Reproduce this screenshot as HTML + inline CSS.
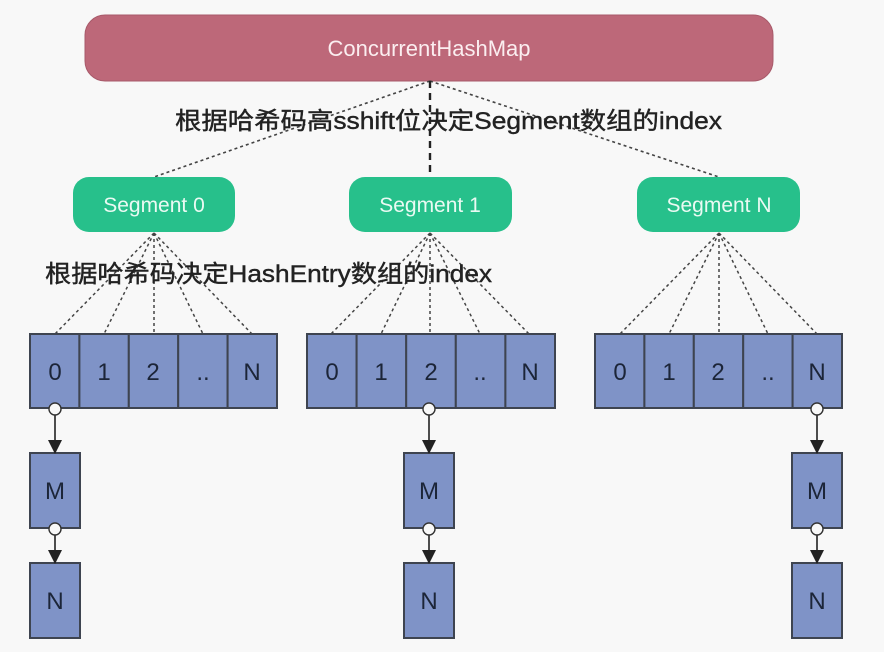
<!DOCTYPE html>
<html><head><meta charset="utf-8"><style>
html,body{margin:0;padding:0;background:#f8f8f8;}
svg{display:block;}
text{font-family:"Liberation Sans","Noto Sans CJK SC",sans-serif;}
</style></head><body>
<svg width="884" height="652" viewBox="0 0 884 652" xmlns="http://www.w3.org/2000/svg">
<rect width="884" height="652" fill="#f8f8f8"/>
<defs><marker id="ar" markerWidth="14" markerHeight="14" refX="13" refY="7" orient="auto" markerUnits="userSpaceOnUse"><path d="M0,0 L14,7 L0,14z" fill="#222"/></marker></defs>
<rect x="85" y="15" width="688" height="66" rx="20" fill="#bd6879" stroke="#a85a6a" stroke-width="1"/>
<text x="429" y="56" text-anchor="middle" font-size="22" fill="#fbeef0">ConcurrentHashMap</text>
<g stroke="#444" stroke-width="1.6" stroke-dasharray="3,3" fill="none">
<line x1="430" y1="81" x2="154" y2="177"/>
<line x1="430" y1="81" x2="719" y2="177"/>
</g>
<line x1="430" y1="81" x2="430" y2="177" stroke="#222" stroke-width="2.4" stroke-dasharray="7,5"/>
<text x="175" y="129" font-size="24" fill="#222" stroke="#222" stroke-width="0.4" textLength="547" lengthAdjust="spacingAndGlyphs">根据哈希码高sshift位决定Segment数组的index</text>
<g fill="#27c08b">
<rect x="73" y="177" width="162" height="55" rx="16"/>
<rect x="349" y="177" width="163" height="55" rx="16"/>
<rect x="637" y="177" width="163" height="55" rx="16"/>
</g>
<g font-size="21" fill="#eafaf3" text-anchor="middle">
<text x="154" y="212">Segment 0</text>
<text x="430" y="212">Segment 1</text>
<text x="719" y="212">Segment N</text>
</g>
<g stroke="#444" stroke-width="1.5" stroke-dasharray="3,3" fill="none">
<path d="M154,233 L55,334 M154,233 L104,334 M154,233 L154,334 M154,233 L203,334 M154,233 L252,334"/>
<path d="M430,233 L331,334 M430,233 L381,334 M430,233 L430,334 M430,233 L480,334 M430,233 L529,334"/>
<path d="M719,233 L620,334 M719,233 L669,334 M719,233 L719,334 M719,233 L768,334 M719,233 L817,334"/>
</g>
<text x="45" y="282" font-size="24" fill="#222" stroke="#222" stroke-width="0.4" textLength="447" lengthAdjust="spacingAndGlyphs">根据哈希码决定HashEntry数组的index</text>
<g fill="#7f93c7" stroke="#3e4450" stroke-width="2">
<rect x="30" y="334" width="49.4" height="74"/><rect x="79.4" y="334" width="49.4" height="74"/><rect x="128.8" y="334" width="49.4" height="74"/><rect x="178.2" y="334" width="49.4" height="74"/><rect x="227.6" y="334" width="49.4" height="74"/>
<rect x="307" y="334" width="49.6" height="74"/><rect x="356.6" y="334" width="49.6" height="74"/><rect x="406.2" y="334" width="49.6" height="74"/><rect x="455.8" y="334" width="49.6" height="74"/><rect x="505.4" y="334" width="49.6" height="74"/>
<rect x="595" y="334" width="49.4" height="74"/><rect x="644.4" y="334" width="49.4" height="74"/><rect x="693.8" y="334" width="49.4" height="74"/><rect x="743.2" y="334" width="49.4" height="74"/><rect x="792.6" y="334" width="49.4" height="74"/>
<rect x="30" y="453" width="50" height="75"/><rect x="30" y="563" width="50" height="75"/>
<rect x="404" y="453" width="50" height="75"/><rect x="404" y="563" width="50" height="75"/>
<rect x="792" y="453" width="50" height="75"/><rect x="792" y="563" width="50" height="75"/>
</g>
<g font-size="24" fill="#1c2538" text-anchor="middle">
<text x="55" y="380">0</text><text x="104" y="380">1</text><text x="153" y="380">2</text><text x="203" y="380">..</text><text x="252" y="380">N</text>
<text x="332" y="380">0</text><text x="381" y="380">1</text><text x="431" y="380">2</text><text x="480" y="380">..</text><text x="530" y="380">N</text>
<text x="620" y="380">0</text><text x="669" y="380">1</text><text x="718" y="380">2</text><text x="768" y="380">..</text><text x="817" y="380">N</text>
<text x="55" y="499">M</text><text x="55" y="609">N</text>
<text x="429" y="499">M</text><text x="429" y="609">N</text>
<text x="817" y="499">M</text><text x="817" y="609">N</text>
</g>
<g stroke="#222" stroke-width="1.6" marker-end="url(#ar)">
<line x1="55" y1="414" x2="55" y2="453"/><line x1="55" y1="534" x2="55" y2="563"/>
<line x1="429" y1="414" x2="429" y2="453"/><line x1="429" y1="534" x2="429" y2="563"/>
<line x1="817" y1="414" x2="817" y2="453"/><line x1="817" y1="534" x2="817" y2="563"/>
</g>
<g fill="#f8f8f8" stroke="#333" stroke-width="1.4">
<circle cx="55" cy="409" r="6"/><circle cx="55" cy="529" r="6"/>
<circle cx="429" cy="409" r="6"/><circle cx="429" cy="529" r="6"/>
<circle cx="817" cy="409" r="6"/><circle cx="817" cy="529" r="6"/>
</g>
</svg>
</body></html>
